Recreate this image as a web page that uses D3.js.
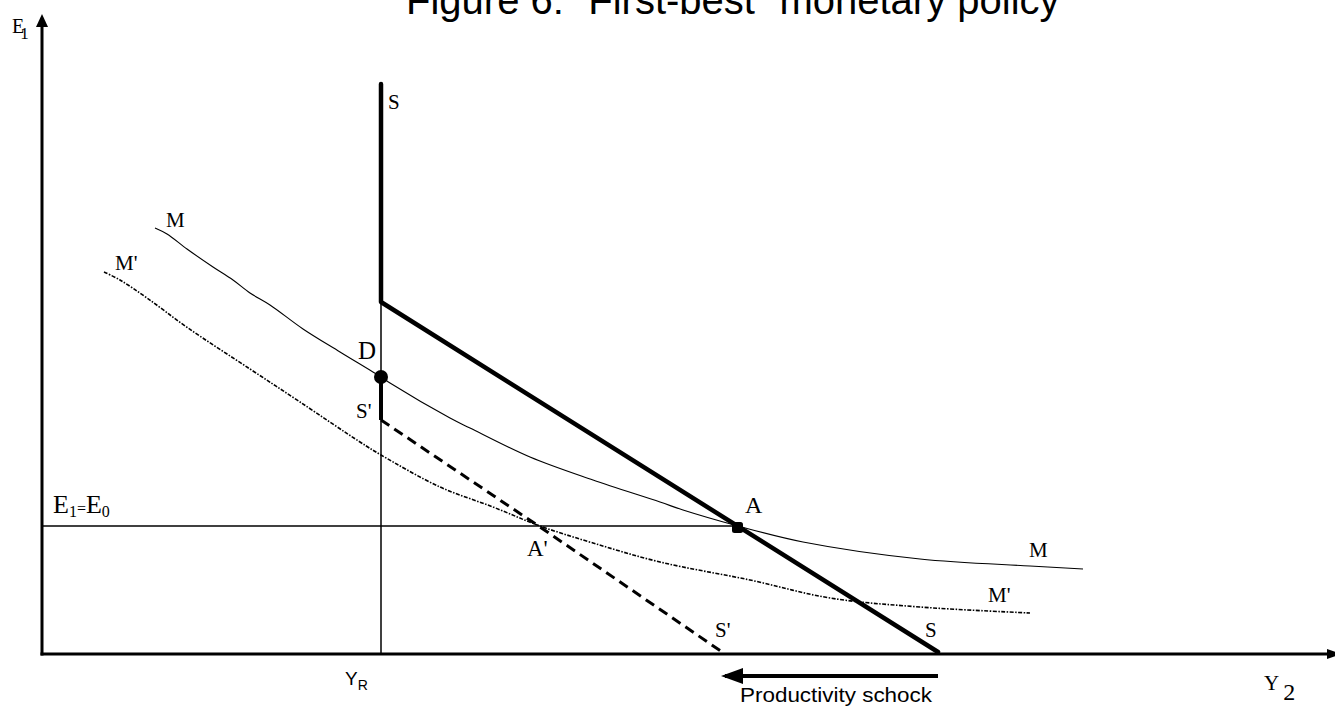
<!DOCTYPE html>
<html><head><meta charset="utf-8">
<script src="https://cdn.jsdelivr.net/npm/d3@7"></script>
<style>
html,body{margin:0;padding:0;background:#fff;overflow:hidden}
svg{display:block}
.serif{font-family:"Liberation Serif","Times New Roman",serif}
.sans{font-family:"Liberation Sans",Arial,sans-serif}
</style></head>
<body>
<svg id="chart" width="1335" height="706"></svg>
<script>
// ---- data (chart units: Y2 on x, E1 on y; origin at axes crossing) ----
const curveM = [[113,426],[125,420],[145,405],[171,387],[191,374],[208,361],[228,349],[261,325],[298,302],[339,277],[348,271],[408,236],[428,226],[488,197],[551,174],[618,152],[641,144],[696,128],[761,112],[878,95],[988,88],[1041,85]];
const curveMprime = [[62,382],[78,374],[105,356],[146,326],[208,285],[258,252],[318,212],[339,199],[398,167],[451,147],[498,128],[551,111],[618,92],[708,74],[788,56],[878,47],[988,41]];
const curveS = [[339,570],[339,352],[896,2]];
const curveSprime = [[339,234],[498,127],[683,0]];
const segDS = [[339,277],[339,234]];
const lineYR = [[339,0],[339,352]];
const lineE0 = [[0,128],[696,128]];
const pointD = [339,277];
const pointA = [696,127];
const shockArrow = [[896,-22],[683,-22]];

const title = "Figure 6: \u201CFirst-best\u201D monetary policy";
const curveLabels = [
  {t:"S",  x:346, y:545},
  {t:"S",  x:883, y:17},
  {t:"S'", x:314, y:236},
  {t:"S'", x:673, y:17},
  {t:"M",  x:124, y:427},
  {t:"M",  x:987, y:97},
  {t:"M'", x:73,  y:384},
  {t:"M'", x:946, y:52}
];

// ---- scales ----
const xS = d3.scaleLinear().domain([0,1293]).range([42,1335]);
const yS = d3.scaleLinear().domain([0,640]).range([654,14]);
const svg = d3.select("#chart");
const line = d3.line().x(d=>xS(d[0])).y(d=>yS(d[1]));
const smooth = d3.line().x(d=>xS(d[0])).y(d=>yS(d[1])).curve(d3.curveCatmullRom.alpha(0.5));

// title
svg.append("text").attr("class","sans").attr("x",406).attr("y",14)
  .attr("font-size",40).attr("fill","#000").text(title);

// axes
svg.append("line").attr("x1",xS(0)).attr("y1",yS(0)+1.5).attr("x2",xS(0)).attr("y2",yS(628))
  .attr("stroke","#000").attr("stroke-width",3);
svg.append("path").attr("d",`M${xS(0)},${yS(640)} L${xS(0)-6},${yS(627)} L${xS(0)+6},${yS(627)} Z`).attr("fill","#000");
svg.append("line").attr("x1",xS(0)-1.5).attr("y1",yS(0)).attr("x2",xS(1290)).attr("y2",yS(0))
  .attr("stroke","#000").attr("stroke-width",3);
svg.append("path").attr("d",`M${xS(1300)},${yS(0)} L${xS(1285)},${yS(0)-5} L${xS(1285)},${yS(0)+5} Z`).attr("fill","#000");

// reference lines
svg.append("path").attr("d",line(lineYR)).attr("stroke","#000").attr("stroke-width",1.5).attr("fill","none");
svg.append("path").attr("d",line(lineE0)).attr("stroke","#000").attr("stroke-width",1.5).attr("fill","none");

// M curve
svg.append("path").attr("d",smooth(curveM)).attr("stroke","#000").attr("stroke-width",1.1).attr("fill","none");
// M' curve (dash-dot)
svg.append("path").attr("d",smooth(curveMprime)).attr("stroke","#000").attr("stroke-width",1.6)
  .attr("stroke-dasharray","4,1.5,1.5,1.5").attr("fill","none");
// S' dashed
svg.append("path").attr("d",line(curveSprime)).attr("stroke","#000").attr("stroke-width",3)
  .attr("stroke-dasharray","10,6").attr("fill","none");
// S thick
svg.append("path").attr("d",line(curveS)).attr("stroke","#000").attr("stroke-width",4.5)
  .attr("stroke-linejoin","round").attr("stroke-linecap","round").attr("fill","none");
svg.append("path").attr("d",line(segDS)).attr("stroke","#000").attr("stroke-width",4).attr("fill","none");

// points
svg.append("circle").attr("cx",xS(pointD[0])).attr("cy",yS(pointD[1])).attr("r",7).attr("fill","#000");
svg.append("rect").attr("x",xS(pointA[0])-6).attr("y",yS(pointA[1])-5).attr("width",11).attr("height",11)
  .attr("rx",2.5).attr("fill","#000");

// curve labels
svg.selectAll("text.cl").data(curveLabels).join("text").attr("class","cl serif")
  .attr("x",d=>xS(d.x)).attr("y",d=>yS(d.y)).attr("font-size",21).attr("fill","#000").text(d=>d.t);

// point labels
svg.append("text").attr("class","serif").attr("x",xS(pointD[0])-23).attr("y",yS(pointD[1])-18)
  .attr("font-size",25).text("D");
svg.append("text").attr("class","serif").attr("x",xS(pointA[0])+7).attr("y",yS(pointA[1])-14)
  .attr("font-size",24).text("A");
svg.append("text").attr("class","serif").attr("x",xS(485)).attr("y",yS(98))
  .attr("font-size",23).text("A'");

// E1=E0 label
const e0 = svg.append("text").attr("class","serif").attr("x",xS(11)).attr("y",yS(141)).attr("font-size",26);
e0.append("tspan").text("E");
e0.append("tspan").attr("font-size",16).attr("dy",4).text("1");
e0.append("tspan").attr("font-size",16).attr("dy",-3).text("=");
e0.append("tspan").attr("dy",-1).text("E");
e0.append("tspan").attr("font-size",16).attr("dy",4).text("0");

// axis labels
const e1 = svg.append("text").attr("class","serif").attr("x",12).attr("y",33).attr("font-size",20);
e1.append("tspan").text("E");
e1.append("tspan").attr("font-size",17).attr("dx",-4).attr("dy",6).text("1");

const yr = svg.append("text").attr("class","sans").attr("x",xS(303)).attr("y",685).attr("font-size",19);
yr.append("tspan").text("Y");
yr.append("tspan").attr("font-size",14).attr("dy",5).text("R");

const y2 = svg.append("text").attr("class","serif").attr("x",1264).attr("y",690).attr("font-size",21);
y2.append("tspan").text("Y");
y2.append("tspan").attr("font-size",24).attr("dx",4).attr("dy",10).text("2");

// productivity shock arrow
svg.append("path").attr("d",line(shockArrow)).attr("stroke","#000").attr("stroke-width",4).attr("fill","none");
svg.append("path").attr("d",`M${xS(shockArrow[1][0])-4},${yS(-22)} L${xS(shockArrow[1][0])+18},${yS(-22)-8} L${xS(shockArrow[1][0])+18},${yS(-22)+8} Z`).attr("fill","#000");
svg.append("text").attr("class","sans").attr("x",740).attr("y",702).attr("font-size",21)
  .attr("textLength",192).attr("lengthAdjust","spacingAndGlyphs").text("Productivity schock");
</script>
</body></html>
